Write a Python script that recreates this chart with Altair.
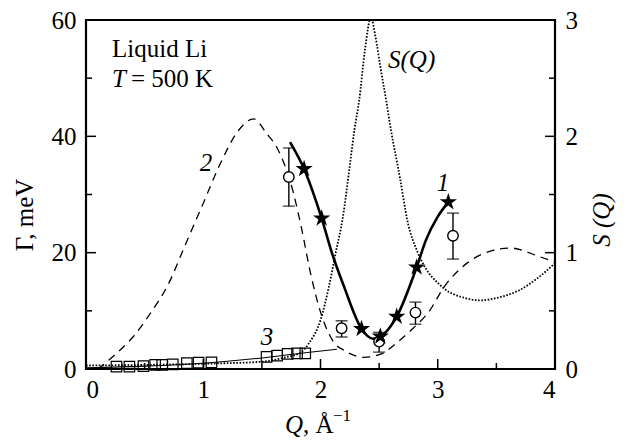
import altair as alt
import pandas as pd

# ---- data ----
# curve 1 (solid thick line) and stars
q1 = [1.74, 1.86, 2.01, 2.10, 2.20, 2.35, 2.45, 2.55, 2.65, 2.82, 2.90, 3.00, 3.09]
g1 = [39.0, 34.4, 25.9, 19.8, 14.2, 6.9, 5.2, 6.2, 9.0, 17.5, 22.2, 26.2, 28.7]
star_q = [1.86, 2.01, 2.35, 2.51, 2.65, 2.82, 3.09]
star_g = [34.4, 25.9, 6.9, 5.6, 9.0, 17.5, 28.7]

# open circles with error bars
circ_q = [1.73, 2.18, 2.50, 2.81, 3.13]
circ_g = [33.0, 7.0, 4.7, 9.7, 22.9]
circ_lo = [28.0, 5.5, 2.9, 7.7, 18.9]
circ_hi = [38.0, 8.3, 6.3, 11.5, 26.8]

# curve 3 (thin line) and squares
q3 = [0.0, 0.5, 1.0, 1.5, 1.87, 2.14]
g3 = [0.2, 0.5, 1.0, 1.9, 2.8, 3.4]
sq_q = [0.26, 0.37, 0.49, 0.59, 0.65, 0.74, 0.86, 0.96, 1.07, 1.54, 1.63, 1.72, 1.80, 1.87]
sq_g = [0.4, 0.4, 0.5, 0.7, 0.7, 0.8, 1.0, 1.1, 1.15, 2.1, 2.3, 2.6, 2.7, 2.7]

# curve 2 (dashed)
q2 = [0.10, 0.12, 0.26, 0.40, 0.55, 0.70, 0.85, 1.00, 1.15, 1.30, 1.43, 1.54, 1.63, 1.77,
      1.84, 1.92, 2.00, 2.10, 2.22, 2.37, 2.53, 2.65, 2.79, 2.93, 3.05, 3.25, 3.47, 3.62, 3.87, 4.00]
g2 = [0.0, 0.3, 2.7, 5.5, 9.6, 14.5, 21.5, 28.5, 35.5, 41.0, 43.0, 40.5, 38.0, 30.2,
      24.0, 16.0, 9.8, 5.0, 3.0, 2.0, 2.7, 4.5, 7.0, 10.0, 14.0, 18.2, 20.4, 20.8, 19.3, 18.4]

# S(Q) (dotted, right axis)
qs = [0.0, 0.5, 1.0, 1.5, 1.7, 1.83, 1.90, 2.00, 2.07, 2.13, 2.19, 2.25, 2.29, 2.33, 2.38,
      2.43, 2.47, 2.51, 2.56, 2.60, 2.68, 2.74, 2.83, 2.90, 3.00, 3.10, 3.20, 3.36, 3.50,
      3.70, 3.85, 4.00]
sv = [0.03, 0.035, 0.045, 0.063, 0.10, 0.14, 0.22, 0.42, 0.70, 1.00, 1.30, 1.75, 2.06, 2.31,
      2.75, 3.02, 2.85, 2.60, 2.31, 2.06, 1.63, 1.28, 1.00, 0.86, 0.74, 0.66, 0.62, 0.59,
      0.61, 0.68, 0.78, 0.91]

# axis ticks
x_major = [1, 2, 3]
x_minor = [0.5, 1.5, 2.5, 3.5]
yl_major = [20, 40]
yl_minor = [10, 30, 50]
yr_major = [1, 2]
yr_minor = [0.5, 1.5, 2.5]

W, H = 469, 349
FONT = "Liberation Serif, Times New Roman, Times, serif"
FS = 25

xs = alt.Scale(domain=[0, 4], nice=False)
yls = alt.Scale(domain=[0, 60], nice=False)
yrs = alt.Scale(domain=[0, 3], nice=False)

ax_common = dict(ticks=False, tickSize=0, domain=False, grid=False, title=None,
                 labelFont=FONT, labelFontSize=FS, labelColor="black")
xaxis = alt.Axis(orient="bottom", values=[0, 1, 2, 3, 4], format="d", labelPadding=8, **ax_common)
ylaxis = alt.Axis(orient="left", values=[0, 20, 40, 60], format="d", labelPadding=10, **ax_common)
yraxis = alt.Axis(orient="right", values=[0, 1, 2, 3], format="d", labelPadding=10, **ax_common)

X = lambda f: alt.X(f, type="quantitative", scale=xs, axis=xaxis)
YL = lambda f: alt.Y(f, type="quantitative", scale=yls, axis=ylaxis)
YR = lambda f: alt.Y(f, type="quantitative", scale=yrs, axis=yraxis)

STAR = ("M0,-1L0.225,-0.309L0.951,-0.309L0.363,0.118L0.588,0.809L0,0.382"
        "L-0.588,0.809L-0.363,0.118L-0.951,-0.309L-0.225,-0.309Z")

d1 = pd.DataFrame({"q": q1, "g": g1})
d2 = pd.DataFrame({"q": q2, "g": g2})
d3 = pd.DataFrame({"q": q3, "g": g3})
dstar = pd.DataFrame({"q": star_q, "g": star_g})
dcirc = pd.DataFrame({"q": circ_q, "g": circ_g, "lo": circ_lo, "hi": circ_hi})
dsq = pd.DataFrame({"q": sq_q, "g": sq_g})
dsq_s = pd.DataFrame({"q": qs, "s": sv})

line2 = alt.Chart(d2).mark_line(color="black", strokeWidth=1.3, strokeDash=[8, 6],
                                interpolate="monotone").encode(x=X("q"), y=YL("g"))
line3 = alt.Chart(d3).mark_line(color="black", strokeWidth=1.1,
                                interpolate="monotone").encode(x=X("q"), y=YL("g"))
line1 = alt.Chart(d1).mark_line(color="black", strokeWidth=2.6,
                                interpolate="monotone").encode(x=X("q"), y=YL("g"))
err = alt.Chart(dcirc).mark_rule(color="black", strokeWidth=1.4).encode(
    x=X("q"), y=YL("lo"), y2="hi")
cap_lo = alt.Chart(dcirc).mark_tick(color="black", orient="horizontal", size=12,
                                    thickness=1.4).encode(x=X("q"), y=YL("lo"))
cap_hi = alt.Chart(dcirc).mark_tick(color="black", orient="horizontal", size=12,
                                    thickness=1.4).encode(x=X("q"), y=YL("hi"))
circ = alt.Chart(dcirc).mark_point(shape="circle", size=110, filled=True, fill="white",
                                   stroke="black", strokeWidth=1.4, opacity=1).encode(
    x=X("q"), y=YL("g"))
stars = alt.Chart(dstar).mark_point(shape=STAR, size=330, filled=True, color="black",
                                    opacity=1).encode(x=X("q"), y=YL("g"))
squares = alt.Chart(dsq).mark_point(shape="square", size=110, filled=False, color="black",
                                    strokeWidth=1.2, opacity=1).encode(x=X("q"), y=YL("g"))

def vticks(vals, ln):
    return alt.Chart(pd.DataFrame({"v": vals})).mark_rule(color="black", strokeWidth=1.5).encode(
        x=X("v"), y=alt.value(H), y2=alt.value(H - ln))

def lticks(vals, ln):
    return alt.Chart(pd.DataFrame({"v": vals})).mark_rule(color="black", strokeWidth=1.5).encode(
        y=YL("v"), x=alt.value(0), x2=alt.value(ln))

def rticks(vals, ln):
    return alt.Chart(pd.DataFrame({"v": vals})).mark_rule(color="black", strokeWidth=1.5).encode(
        y=YR("v"), x=alt.value(W), x2=alt.value(W - ln))

def txt(s, x, y, italic=False, size=FS, align="left", baseline="alphabetic", angle=0):
    kw = dict(font=FONT, fontSize=size, color="black", align=align, baseline=baseline,
              fontStyle="italic" if italic else "normal")
    if angle:
        kw["angle"] = angle
    return alt.Chart(pd.DataFrame({"t": [s]})).mark_text(**kw).encode(
        text="t:N", x=alt.value(x), y=alt.value(y))

left = alt.layer(
    line2, line3, line1, err, cap_lo, cap_hi, circ, stars, squares,
    vticks(x_major, 10), vticks(x_minor, 6), lticks(yl_major, 10), lticks(yl_minor, 6),
)

sq_line = alt.Chart(dsq_s).mark_line(color="black", strokeWidth=1.8, strokeDash=[1.6, 1.6],
                                     interpolate="monotone", clip=True).encode(
    x=X("q"), y=YR("s"))
right = alt.layer(sq_line, rticks(yr_major, 10), rticks(yr_minor, 6))

texts = alt.layer(
    txt("Liquid Li", 26, 37),
    txt("T", 26, 67, italic=True),
    txt("= 500 K", 45, 67),
    txt("S(Q)", 302, 48, italic=True),
    txt("1", 357, 163, italic=True, align="center", baseline="middle"),
    txt("2", 120, 143, italic=True, align="center", baseline="middle"),
    txt("3", 181, 317, italic=True, align="center", baseline="middle"),
    txt("Γ, meV", -61, 195, align="center", baseline="middle", angle=270),
    txt("S (Q)", 516, 200, italic=True, align="center", baseline="middle", angle=270),
    txt("Q", 199, 413, italic=True),
    txt(", Å", 217, 413),
    txt("−1", 247, 401, size=17),
)

chart = alt.layer(left, right, texts).resolve_scale(y="independent").properties(
    width=W, height=H,
    autosize=alt.AutoSizeParams(type="none"),
    padding={"left": 78, "top": 12, "right": 64, "bottom": 72},
).configure_view(stroke="black", strokeWidth=2.2)

chart.save("out.html", embed_options={"renderer": "svg", "actions": False})
